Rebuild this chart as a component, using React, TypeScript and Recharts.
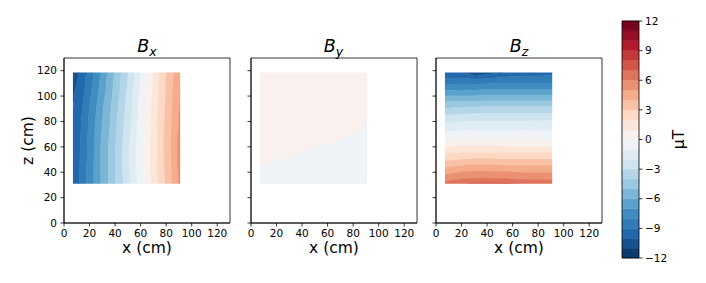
import React from "react";
import { ComposedChart, Area, XAxis, YAxis, ReferenceArea } from "recharts";

// axis ticks shared by the three panels (cm)
const AXIS_TICKS = [0, 20, 40, 60, 80, 100, 120];
// colour scale (µT)
const CB_LEVELS = [-12, -11, -10, -9, -8, -7, -6, -5, -4, -3, -2, -1, 0, 1, 2, 3, 4, 5, 6, 7, 8, 9, 10, 11, 12];
const CB_TICKS = [-12, -9, -6, -3, 0, 3, 6, 9, 12];
// measured area (cm)
const DATA_X = [7, 91];
const DATA_Z = [31, 118.5];

// Bx: contour positions in x (cm) for each level, read at these z rows
const BX_Z = [31, 45, 60, 75, 90, 105, 118.5];
const BX_LEVELS = [-10, -9, -8, -7, -6, -5, -4, -3, -2, -1, 0, 1, 2, 3, 4, 5];
const BX_BOUNDS = [
  [7, 7, 7, 7, 7, 8.5, 11.5],
  [12, 12, 12.5, 13, 14, 16, 17],
  [17.5, 17.5, 18, 18.5, 19.5, 21.5, 23],
  [23, 23, 23.5, 24, 25, 27, 28.5],
  [28.5, 28.5, 28.5, 29.5, 30.5, 32.5, 33.5],
  [34.5, 34.5, 34.5, 35.5, 36.5, 38, 39],
  [40, 40, 40, 41, 42, 43.5, 44.5],
  [46, 45.5, 45.5, 46.5, 47.5, 49, 50],
  [51.5, 51, 51, 52, 53, 54, 55],
  [57, 56.5, 56.5, 57, 58, 59, 60],
  [62, 62, 62, 62.5, 63, 64, 65],
  [68, 67.5, 67.5, 68, 68.5, 69, 70],
  [73.5, 73, 73, 73, 73.5, 74, 75],
  [79, 78.5, 78, 78.5, 79, 79.5, 80],
  [84.5, 84, 83.5, 84, 84.5, 85, 86],
  [89.5, 89, 88.5, 89.5, 90, 91, 91],
];

// By: the zero contour in z (cm), read at these x columns
const BY_X = [7, 8, 10, 13, 15, 18, 21, 24, 27, 29, 32, 35, 37, 40, 42, 45, 47, 50, 53, 56, 59, 62, 65, 67, 70, 72, 75, 78, 80, 83, 85, 87, 89, 91];
const BY_LEVELS = [0];
const BY_BOUNDS = [
  [42, 44.5, 46, 46.5, 47.5, 48, 49.5, 50, 52, 51.5, 53.5, 54, 55.5, 55, 57, 57.5, 59, 59.5, 60, 61.5, 62, 63, 63.5, 65.5, 66, 68, 68.5, 70, 71.5, 72, 73, 73.5, 78, 81],
];

// Bz: contour positions in z (cm) for each level, read at these x columns
const BZ_X = [7, 12, 22, 31, 40, 55, 70, 91];
const BZ_LEVELS = [-10, -9, -8, -7, -6, -5, -4, -3, -2, -1, 0, 1, 2, 3, 4, 5, 6, 7];
const BZ_BOUNDS = [
  [118.5, 118.5, 118.5, 116, 117.5, 118.5, 118.5, 118.5],
  [114, 114.5, 114.5, 113.5, 114, 115.5, 116, 116.5],
  [109, 109.5, 110, 109.5, 110, 110.5, 110.5, 110.5],
  [104.5, 104.5, 105, 105, 105.5, 105.5, 105.5, 105.5],
  [100, 100.5, 100.5, 100.5, 101, 101, 101, 101],
  [95.5, 96, 96, 96, 96.5, 96.5, 96.5, 96.5],
  [90.5, 91, 91.5, 91.5, 92, 92, 92, 92],
  [85, 85.5, 86, 86.5, 86.5, 86.5, 86.5, 86.5],
  [79, 79.5, 80, 80.5, 80.5, 80.5, 80.5, 81],
  [72.5, 72.5, 73, 73.5, 73.5, 73.5, 73, 73],
  [66, 66, 66.5, 66.5, 66.5, 66.5, 66, 66],
  [60.5, 60.5, 61, 61, 61, 60.5, 60.5, 60.5],
  [55, 55, 55.5, 55.5, 55.5, 55.5, 55.5, 55.5],
  [49.5, 49.5, 50.5, 51, 51, 50.5, 50.5, 50.5],
  [44, 44.5, 45.5, 46, 46, 45.5, 45.5, 45.5],
  [38.5, 39, 40.5, 41, 41, 40.5, 40, 40],
  [33, 33.5, 35, 35.5, 35.5, 35, 34.5, 34],
  [31, 31, 31, 32, 32, 31.5, 31, 31],
];

const FONT = "'DejaVu Sans', sans-serif";
const RDBU_R = ["#053061", "#2166ac", "#4393c3", "#92c5de", "#d1e5f0", "#f7f7f7", "#fddbc7", "#f4a582", "#d6604d", "#b2182b", "#67001f"];
// small overlap (cm) so neighbouring bands leave no hairline seam
const EPS = 0.4;

function cmap(t: number) {
  const s = Math.min(Math.max(t, 0), 1) * (RDBU_R.length - 1);
  const i = Math.min(Math.floor(s), RDBU_R.length - 2);
  const f = s - i;
  const a = RDBU_R[i];
  const b = RDBU_R[i + 1];
  const ch = (h: string, k: number) => parseInt(h.slice(1 + 2 * k, 3 + 2 * k), 16);
  const mix = [0, 1, 2].map((k) => Math.round(ch(a, k) + (ch(b, k) - ch(a, k)) * f));
  return `rgb(${mix.join(",")})`;
}

// colour of the band [lo, lo+1]
const bandColor = (lo: number) =>
  cmap((lo + 0.5 - CB_LEVELS[0]) / (CB_LEVELS[CB_LEVELS.length - 1] - CB_LEVELS[0]));

// turn contour positions into one [from, to] range per filled band
function buildBands(
  coordKey: string,
  coords: number[],
  levels: number[],
  bounds: number[][],
  edge: number[],
  rising: boolean
) {
  const n = levels.length;
  const lows = [levels[0] - 1, ...levels];
  const rows = coords.map((c, i) => {
    const row: Record<string, any> = { [coordKey]: c };
    lows.forEach((_, j) => {
      if (rising) {
        const a = j === 0 ? edge[0] : bounds[j - 1][i];
        const raw = j === n ? edge[1] : bounds[j][i];
        const b = raw > a ? Math.min(raw + EPS, edge[1]) : a;
        row[`band${j}`] = [a, b];
      } else {
        const b = j === 0 ? edge[1] : bounds[j - 1][i];
        const raw = j === n ? edge[0] : bounds[j][i];
        const a = raw < b ? Math.max(raw - EPS, edge[0]) : b;
        row[`band${j}`] = [a, b];
      }
    });
    return row;
  });
  const bands = lows.map((lo, j) => ({ key: `band${j}`, color: bandColor(lo) }));
  return { rows, bands };
}

const BX = buildBands("z", BX_Z, BX_LEVELS, BX_BOUNDS, DATA_X, true);
const BY = buildBands("x", BY_X, BY_LEVELS, BY_BOUNDS, DATA_Z, true);
const BZ = buildBands("x", BZ_X, BZ_LEVELS, BZ_BOUNDS, DATA_Z, false);

// colour bar: one row at each side of the bar, one band per level step
const CB_BANDS = CB_LEVELS.slice(0, -1).map((lo, i) => ({ key: `cb${i}`, lo, hi: CB_LEVELS[i + 1] }));
const CB_ROWS = [0, 1].map((x) => {
  const row: Record<string, any> = { x };
  CB_BANDS.forEach((b) => (row[b.key] = [b.lo, b.hi]));
  return row;
});

const PANELS = [
  { left: 64, layout: "vertical" as const, coordKey: "z", data: BX, sub: "x" },
  { left: 250.5, layout: "horizontal" as const, coordKey: "x", data: BY, sub: "y" },
  { left: 436, layout: "horizontal" as const, coordKey: "x", data: BZ, sub: "z" },
];
const PLOT_W = 166;

const tickStyle = { fontSize: 10.5, fill: "#000" };
const lineStyle = { stroke: "#000", strokeWidth: 0.8 };

function ContourPanel({ panel, first }: { panel: (typeof PANELS)[number]; first: boolean }) {
  const { layout, coordKey, data } = panel;
  const vertical = layout === "vertical";
  return (
    <div style={{ position: "absolute", left: panel.left - 64, top: 0 }}>
      <ComposedChart
        width={64 + PLOT_W + 10}
        height={283}
        layout={layout}
        data={data.rows}
        margin={{ top: 58, right: 10, bottom: 30, left: 24 }}
      >
        <XAxis
          type="number"
          dataKey={vertical ? undefined : coordKey}
          domain={[0, 130]}
          ticks={AXIS_TICKS}
          interval={0}
          height={30}
          tick={tickStyle}
          tickLine={lineStyle}
          axisLine={lineStyle}
          tickSize={3.5}
          tickMargin={3.5}
          label={{ value: "x (cm)", position: "insideBottom", offset: 0, style: { fontSize: 15.5, fill: "#000" } }}
        />
        <YAxis
          type="number"
          dataKey={vertical ? coordKey : undefined}
          domain={[0, 130]}
          reversed={vertical}
          ticks={AXIS_TICKS}
          interval={0}
          width={40}
          tick={tickStyle}
          tickLine={lineStyle}
          axisLine={lineStyle}
          tickSize={3.5}
          tickMargin={3.5}
          tickFormatter={first ? undefined : () => ""}
          label={
            first
              ? { value: "z (cm)", angle: -90, position: "insideLeft", offset: 3, style: { fontSize: 15.5, fill: "#000", textAnchor: "middle" } }
              : undefined
          }
        />
        {data.bands.map((b) => (
          <Area
            key={b.key}
            dataKey={b.key}
            type="linear"
            fill={b.color}
            fillOpacity={1}
            stroke="none"
            dot={false}
            activeDot={false}
            isAnimationActive={false}
          />
        ))}
        <ReferenceArea x1={0} x2={130} y1={0} y2={130} fill="none" fillOpacity={0} stroke="#000" strokeWidth={0.8} />
      </ComposedChart>
    </div>
  );
}

function Colorbar() {
  return (
    <div style={{ position: "absolute", left: 600, top: 0 }}>
      <ComposedChart width={106} height={283} data={CB_ROWS} margin={{ top: 21, right: 17, bottom: 25, left: 22 }}>
        <XAxis type="number" dataKey="x" domain={[0, 1]} hide />
        <YAxis
          type="number"
          orientation="right"
          domain={[-12, 12]}
          ticks={CB_TICKS}
          interval={0}
          width={50}
          tick={tickStyle}
          tickLine={lineStyle}
          axisLine={false}
          tickSize={3.5}
          tickMargin={2.5}
          tickFormatter={(v: number) => String(v).replace("-", "\u2212")}
          label={{ value: "µT", angle: -90, position: "insideRight", offset: 11, style: { fontSize: 15.5, fill: "#000", textAnchor: "middle" } }}
        />
        {CB_BANDS.map((b) => (
          <Area
            key={b.key}
            dataKey={b.key}
            type="linear"
            fill={bandColor(b.lo)}
            fillOpacity={1}
            stroke={bandColor(b.lo)}
            strokeWidth={0.4}
            dot={false}
            activeDot={false}
            isAnimationActive={false}
          />
        ))}
        <ReferenceArea x1={0} x2={1} y1={-12} y2={12} fill="none" fillOpacity={0} stroke="#000" strokeWidth={0.8} />
      </ComposedChart>
    </div>
  );
}

export default function App() {
  return (
    <div style={{ position: "absolute", left: 0, top: 0, width: 706, height: 283, background: "#fff", fontFamily: FONT }}>
      {PANELS.map((p, i) => (
        <ContourPanel key={p.sub} panel={p} first={i === 0} />
      ))}
      <Colorbar />
      <svg width={706} height={283} style={{ position: "absolute", left: 0, top: 0, pointerEvents: "none" }}>
        {PANELS.map((p) => (
          <text key={p.sub} x={p.left + PLOT_W / 2} y={52.3} textAnchor="middle" fontSize={17.5} fontStyle="italic" fill="#000">
            B
            <tspan fontSize={12.5} dy={3.5}>
              {p.sub}
            </tspan>
          </text>
        ))}
      </svg>
    </div>
  );
}
